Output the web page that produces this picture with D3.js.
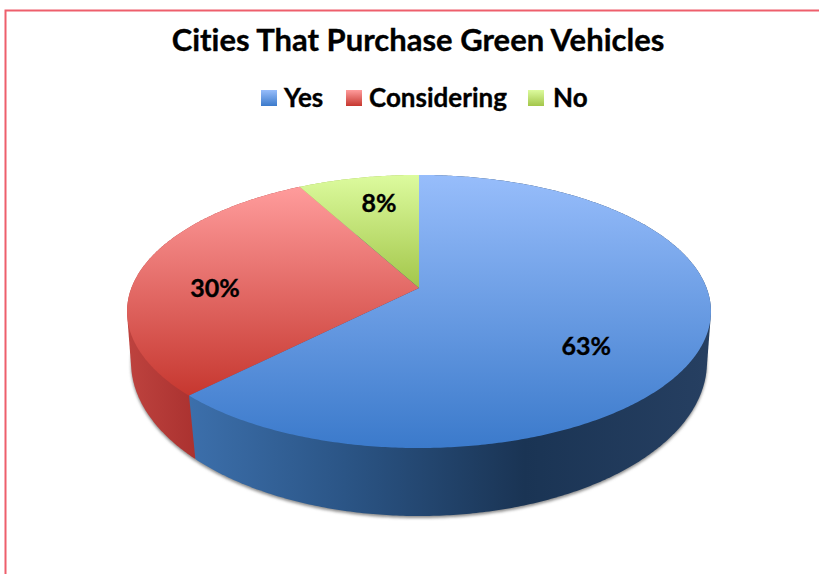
<!DOCTYPE html>
<html>
<head>
<meta charset="utf-8">
<script src="https://cdn.jsdelivr.net/npm/d3@7"></script>
<style>
  html, body { margin: 0; padding: 0; background: #fff; }
  svg { display: block; }
  text {
    font-family: Lato, "Open Sans", sans-serif;
    font-weight: 700;
    font-variant-ligatures: none;
    fill: #000;
    stroke: #000;
    stroke-width: 0.35;
  }
</style>
</head>
<body>
<svg id="chart" width="819" height="574"></svg>
<script>
const title = 'Cities That Purchase Green Vehicles';
const categories = ['Yes', 'Considering', 'No'];
const values = [63, 30, 8];
const labels = ['63%', '30%', '8%'];

const svg = d3.select('#chart');
const defs = svg.append('defs');

// frame, only top and left edges show in the crop
svg.append('path')
  .attr('d', 'M5.5,574V10.5H819')
  .attr('fill', 'none')
  .attr('stroke', '#ee5f6c')
  .attr('stroke-width', 2);

svg.append('text')
  .attr('x', 418).attr('y', 51)
  .attr('text-anchor', 'middle')
  .attr('font-size', 31)
  .text(title);

// top and bottom rims of the disc, each a perspective view of a unit circle
const topRim = { x0: 419, y0: 288, a: 287.6, b: 132.5, k: 0.172 };
const baseRim = { x0: 419, y0: 339, a: 284.7, b: 150.5, k: 0.15 };

const project = (rim, angle, r = 1) => {
  const X = r * Math.sin(angle);
  const Y = -r * Math.cos(angle);
  const w = 1 - rim.k * Y;
  return [rim.x0 + (rim.a * X) / w, rim.y0 + (rim.b * Y) / w];
};

const arcAngles = (a0, a1) => {
  const n = Math.ceil((a1 - a0) / 0.01);
  return d3.range(n + 1).map(i => a0 + ((a1 - a0) * i) / n);
};

const line = d3.line();
const slices = d3.pie().sort(null)(values);

const topColors = [
  ['#97bdfb', '#3b7acb'],
  ['#ff9c9c', '#c6372f'],
  ['#dcfb9e', '#a3c64a']
];
const sideStops = [
  [[0, '#3c6fab'], [0.3, '#2b5586'], [0.65, '#1a3454'], [1, '#263f61']],
  [[0, '#bd423e'], [1, '#ab3230']],
  [[0, '#9cba48'], [1, '#9cba48']]
];
const sideRange = [[190, 705], [130, 194], [300, 420]];
const topRange = [[175, 448], [186, 396], [175, 288]];

slices.forEach((s, i) => {
  defs.append('linearGradient')
    .attr('id', `top${i}`)
    .attr('gradientUnits', 'userSpaceOnUse')
    .attr('x1', 0).attr('x2', 0)
    .attr('y1', topRange[i][0]).attr('y2', topRange[i][1])
    .selectAll('stop')
    .data(topColors[i])
    .join('stop')
    .attr('offset', (d, j) => j)
    .attr('stop-color', d => d);
  defs.append('linearGradient')
    .attr('id', `side${i}`)
    .attr('gradientUnits', 'userSpaceOnUse')
    .attr('y1', 0).attr('y2', 0)
    .attr('x1', sideRange[i][0]).attr('x2', sideRange[i][1])
    .selectAll('stop')
    .data(sideStops[i])
    .join('stop')
    .attr('offset', d => d[0])
    .attr('stop-color', d => d[1]);
});

defs.append('filter')
  .attr('id', 'soft')
  .attr('x', '-5%').attr('y', '-5%').attr('width', '110%').attr('height', '110%')
  .append('feGaussianBlur')
  .attr('stdDeviation', 1.6);

// shadow under the disc
const full = arcAngles(0, Math.PI * 2);
svg.append('path')
  .attr('d', line(full.map(a => project(baseRim, a))) + 'Z')
  .attr('transform', 'translate(0,2)')
  .attr('fill', '#8c8c8c')
  .attr('filter', 'url(#soft)');

// sides first, the top faces cover whatever is behind
// hull so the silhouette runs straight from one rim to the other
[2, 1, 0].forEach(i => {
  const s = slices[i];
  const angles = arcAngles(s.startAngle, s.endAngle);
  const hull = d3.polygonHull(
    angles.map(a => project(topRim, a)).concat(angles.map(a => project(baseRim, a)))
  );
  svg.append('path')
    .attr('d', line(hull) + 'Z')
    .attr('fill', `url(#side${i})`);
});

slices.forEach((s, i) => {
  const outline = [project(topRim, 0, 0)].concat(
    arcAngles(s.startAngle, s.endAngle).map(a => project(topRim, a))
  );
  svg.append('path')
    .attr('d', line(outline) + 'Z')
    .attr('fill', `url(#top${i})`);
});

// data labels
const labelR = [0.6, 0.7, 0.8];
const labelNudge = [[1, 27], [-8, 13], [10, 6]];
slices.forEach((s, i) => {
  const p = project(topRim, (s.startAngle + s.endAngle) / 2, labelR[i]);
  svg.append('text')
    .attr('x', p[0] + labelNudge[i][0])
    .attr('y', p[1] + labelNudge[i][1])
    .attr('dy', '0.35em')
    .attr('text-anchor', 'middle')
    .attr('font-size', 25)
    .text(labels[i]);
});

// legend
const legendX = [261, 346, 528];
const legendGap = [23, 23, 25];
categories.forEach((c, i) => {
  defs.append('linearGradient')
    .attr('id', `key${i}`)
    .attr('x1', 0).attr('x2', 0).attr('y1', 0).attr('y2', 1)
    .selectAll('stop')
    .data(topColors[i])
    .join('stop')
    .attr('offset', (d, j) => j)
    .attr('stop-color', d => d);
  svg.append('rect')
    .attr('x', legendX[i]).attr('y', 90)
    .attr('width', 16).attr('height', 16)
    .attr('fill', `url(#key${i})`);
  svg.append('text')
    .attr('x', legendX[i] + legendGap[i]).attr('y', 107)
    .attr('font-size', 26)
    .text(c);
});
</script>
</body>
</html>
